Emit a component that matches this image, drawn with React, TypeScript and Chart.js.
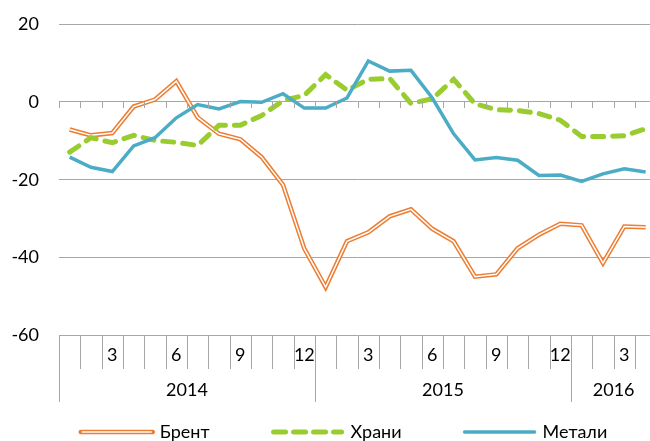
import React, { useEffect, useRef } from "react";
import { Chart, registerables } from "chart.js";

Chart.register(...registerables);

// ---- data ----
const categories = [
  "01.2014", "02.2014", "03.2014", "04.2014", "05.2014", "06.2014",
  "07.2014", "08.2014", "09.2014", "10.2014", "11.2014", "12.2014",
  "01.2015", "02.2015", "03.2015", "04.2015", "05.2015", "06.2015",
  "07.2015", "08.2015", "09.2015", "10.2015", "11.2015", "12.2015",
  "01.2016", "02.2016", "03.2016", "04.2016",
];
const monthLabels = [
  "", "", "3", "", "", "6", "", "", "9", "", "", "12",
  "", "", "3", "", "", "6", "", "", "9", "", "", "12",
  "", "", "3", "",
];
const years = ["2014", "2015", "2016"];
const yearMonths = [12, 12, 4];

const seriesNames = ["Брент", "Храни", "Метали"];
const brent = [
  -7.1, -8.6, -8.0, -1.2, 0.6, 5.3, -4.0, -8.2, -9.6, -14.2, -21.3, -37.7,
  -47.6, -35.8, -33.5, -29.4, -27.6, -32.6, -35.8, -44.9, -44.3, -37.6, -34.1, -31.3,
  -31.7, -41.4, -32.0, -32.2,
];
const foods = [
  -12.9, -9.2, -10.5, -8.6, -9.9, -10.4, -11.2, -6.0, -6.0, -3.5, 0.3, 1.7,
  7.0, 3.0, 5.8, 6.0, -0.4, 0.8, 5.8, -0.5, -2.0, -2.2, -3.0, -4.7,
  -8.9, -8.9, -8.7, -6.9,
];
const metals = [
  -14.2, -16.8, -17.9, -11.3, -9.2, -4.1, -0.7, -1.8, 0.1, -0.1, 2.1, -1.6,
  -1.6, 1.0, 10.5, 7.9, 8.1, 1.0, -8.2, -14.9, -14.3, -15.0, -18.9, -18.8,
  -20.4, -18.5, -17.2, -18.0,
];
const yMin = -60;
const yMax = 20;
const yStep = 20;

// ---- styles ----
const ORANGE = "#ED7D31";
const GREEN = "#99CC2E";
const TEAL = "#4BACC6";
const GRID = "#A6A6A6";
const FONT = "Lato, 'Open Sans', sans-serif";
const FONT_SIZE = 18;

const axisPlugin = {
  id: "multiAxis",
  afterDraw(chart: any) {
    const ctx = chart.ctx;
    const xs = chart.scales.x;
    const ys = chart.scales.y;
    const n = categories.length;
    const slot = xs.getPixelForValue(1) - xs.getPixelForValue(0);
    const boundary = (k: number) => xs.getPixelForValue(0) - slot / 2 + k * slot;
    const zero = Math.round(ys.getPixelForValue(0));
    const bottom = Math.round(ys.getPixelForValue(yMin));
    const yearBounds: number[] = [0];
    let acc = 0;
    yearMonths.forEach((m) => {
      acc += m;
      yearBounds.push(acc);
    });

    ctx.save();
    ctx.strokeStyle = GRID;
    ctx.lineWidth = 1;
    for (let k = 0; k <= n; k++) {
      const x = Math.round(boundary(k)) + 0.5;
      ctx.beginPath();
      ctx.moveTo(x, zero);
      ctx.lineTo(x, zero + 6);
      const isYear = yearBounds.includes(k);
      ctx.moveTo(x, bottom);
      ctx.lineTo(x, bottom + (isYear ? 66 : 33));
      ctx.stroke();
    }

    ctx.fillStyle = "#000";
    ctx.font = `${FONT_SIZE}px ${FONT}`;
    ctx.textAlign = "center";
    ctx.textBaseline = "middle";
    monthLabels.forEach((lab, i) => {
      if (!lab) return;
      ctx.fillText(lab, xs.getPixelForValue(i), bottom + 19);
    });
    let start = 0;
    years.forEach((y, j) => {
      const cx = (boundary(start) + boundary(start + yearMonths[j])) / 2;
      ctx.fillText(y, cx, bottom + 54);
      start += yearMonths[j];
    });

    // legend
    const lineLen = 72;
    const gapText = 7;
    const gapItem = 62;
    const widths = seriesNames.map((s) => ctx.measureText(s).width);
    const total =
      widths.reduce((a, b) => a + b, 0) + seriesNames.length * (lineLen + gapText) + gapItem * (seriesNames.length - 1);
    let lx = 344 - total / 2;
    const ly = 432;
    ctx.textAlign = "left";
    seriesNames.forEach((name, i) => {
      ctx.save();
      if (i === 0) {
        ctx.lineCap = "round";
        ctx.strokeStyle = ORANGE;
        ctx.lineWidth = 4.5;
        ctx.beginPath();
        ctx.moveTo(lx, ly);
        ctx.lineTo(lx + lineLen, ly);
        ctx.stroke();
        ctx.lineCap = "butt";
        ctx.strokeStyle = "#fff";
        ctx.lineWidth = 1.5;
        ctx.beginPath();
        ctx.moveTo(lx + 1, ly);
        ctx.lineTo(lx + lineLen - 1, ly);
        ctx.stroke();
      } else if (i === 1) {
        ctx.lineCap = "round";
        ctx.strokeStyle = GREEN;
        ctx.lineWidth = 5;
        ctx.setLineDash([12, 8]);
        ctx.beginPath();
        ctx.moveTo(lx + 2, ly);
        ctx.lineTo(lx + lineLen - 2, ly);
        ctx.stroke();
      } else {
        ctx.lineCap = "round";
        ctx.strokeStyle = TEAL;
        ctx.lineWidth = 3.5;
        ctx.beginPath();
        ctx.moveTo(lx + 1, ly);
        ctx.lineTo(lx + lineLen - 1, ly);
        ctx.stroke();
      }
      ctx.restore();
      ctx.fillStyle = "#000";
      ctx.fillText(name, lx + lineLen + gapText, ly);
      lx += lineLen + gapText + widths[i] + gapItem;
    });
    ctx.restore();
  },
};

const CANVAS_W = 660;
const CANVAS_H = 441;

export default function App() {
  const ref = useRef<HTMLCanvasElement>(null);

  useEffect(() => {
    if (!ref.current) return;
    const chart = new Chart(ref.current, {
      type: "line",
      data: {
        labels: categories,
        datasets: [
          {
            label: seriesNames[2],
            data: metals,
            borderColor: TEAL,
            borderWidth: 3.5,
            pointRadius: 0,
            tension: 0,
            order: 0,
          },
          {
            label: seriesNames[1],
            data: foods,
            borderColor: GREEN,
            borderWidth: 5,
            borderDash: [11, 9],
            borderCapStyle: "round",
            pointRadius: 0,
            tension: 0,
            order: 1,
          },
          {
            label: seriesNames[0] + "-inner",
            data: brent,
            borderColor: "#FFFFFF",
            borderWidth: 1.5,
            pointRadius: 0,
            tension: 0,
            order: 2,
          },
          {
            label: seriesNames[0],
            data: brent,
            borderColor: ORANGE,
            borderWidth: 4.5,
            pointRadius: 0,
            tension: 0,
            order: 3,
          },
        ],
      },
      options: {
        responsive: false,
        animation: false,
        events: [],
        layout: {
          padding: { top: 24, left: 0, right: CANVAS_W - 656.3, bottom: CANVAS_H - 335.5 },
        },
        plugins: {
          legend: { display: false },
          tooltip: { enabled: false },
        },
        scales: {
          x: {
            type: "category",
            display: false,
            offset: true,
          },
          y: {
            min: yMin,
            max: yMax,
            ticks: {
              stepSize: yStep,
              padding: 20,
              color: "#000",
              font: { family: FONT, size: FONT_SIZE },
            },
            grid: { color: GRID, lineWidth: 1, drawTicks: false },
            border: { display: false },
            afterFit: (scale: any) => {
              scale.width = 59;
              scale.paddingTop = 0;
              scale.paddingBottom = 0;
            },
          },
        },
      },
      plugins: [axisPlugin],
    });
    return () => chart.destroy();
  }, []);

  return (
    <div
      style={{
        position: "absolute",
        left: 0,
        top: 0,
        width: 650,
        height: 441,
        overflow: "hidden",
        background: "#fff",
      }}
    >
      <canvas
        ref={ref}
        width={CANVAS_W}
        height={CANVAS_H}
        style={{ width: CANVAS_W, height: CANVAS_H, display: "block" }}
      />
    </div>
  );
}
